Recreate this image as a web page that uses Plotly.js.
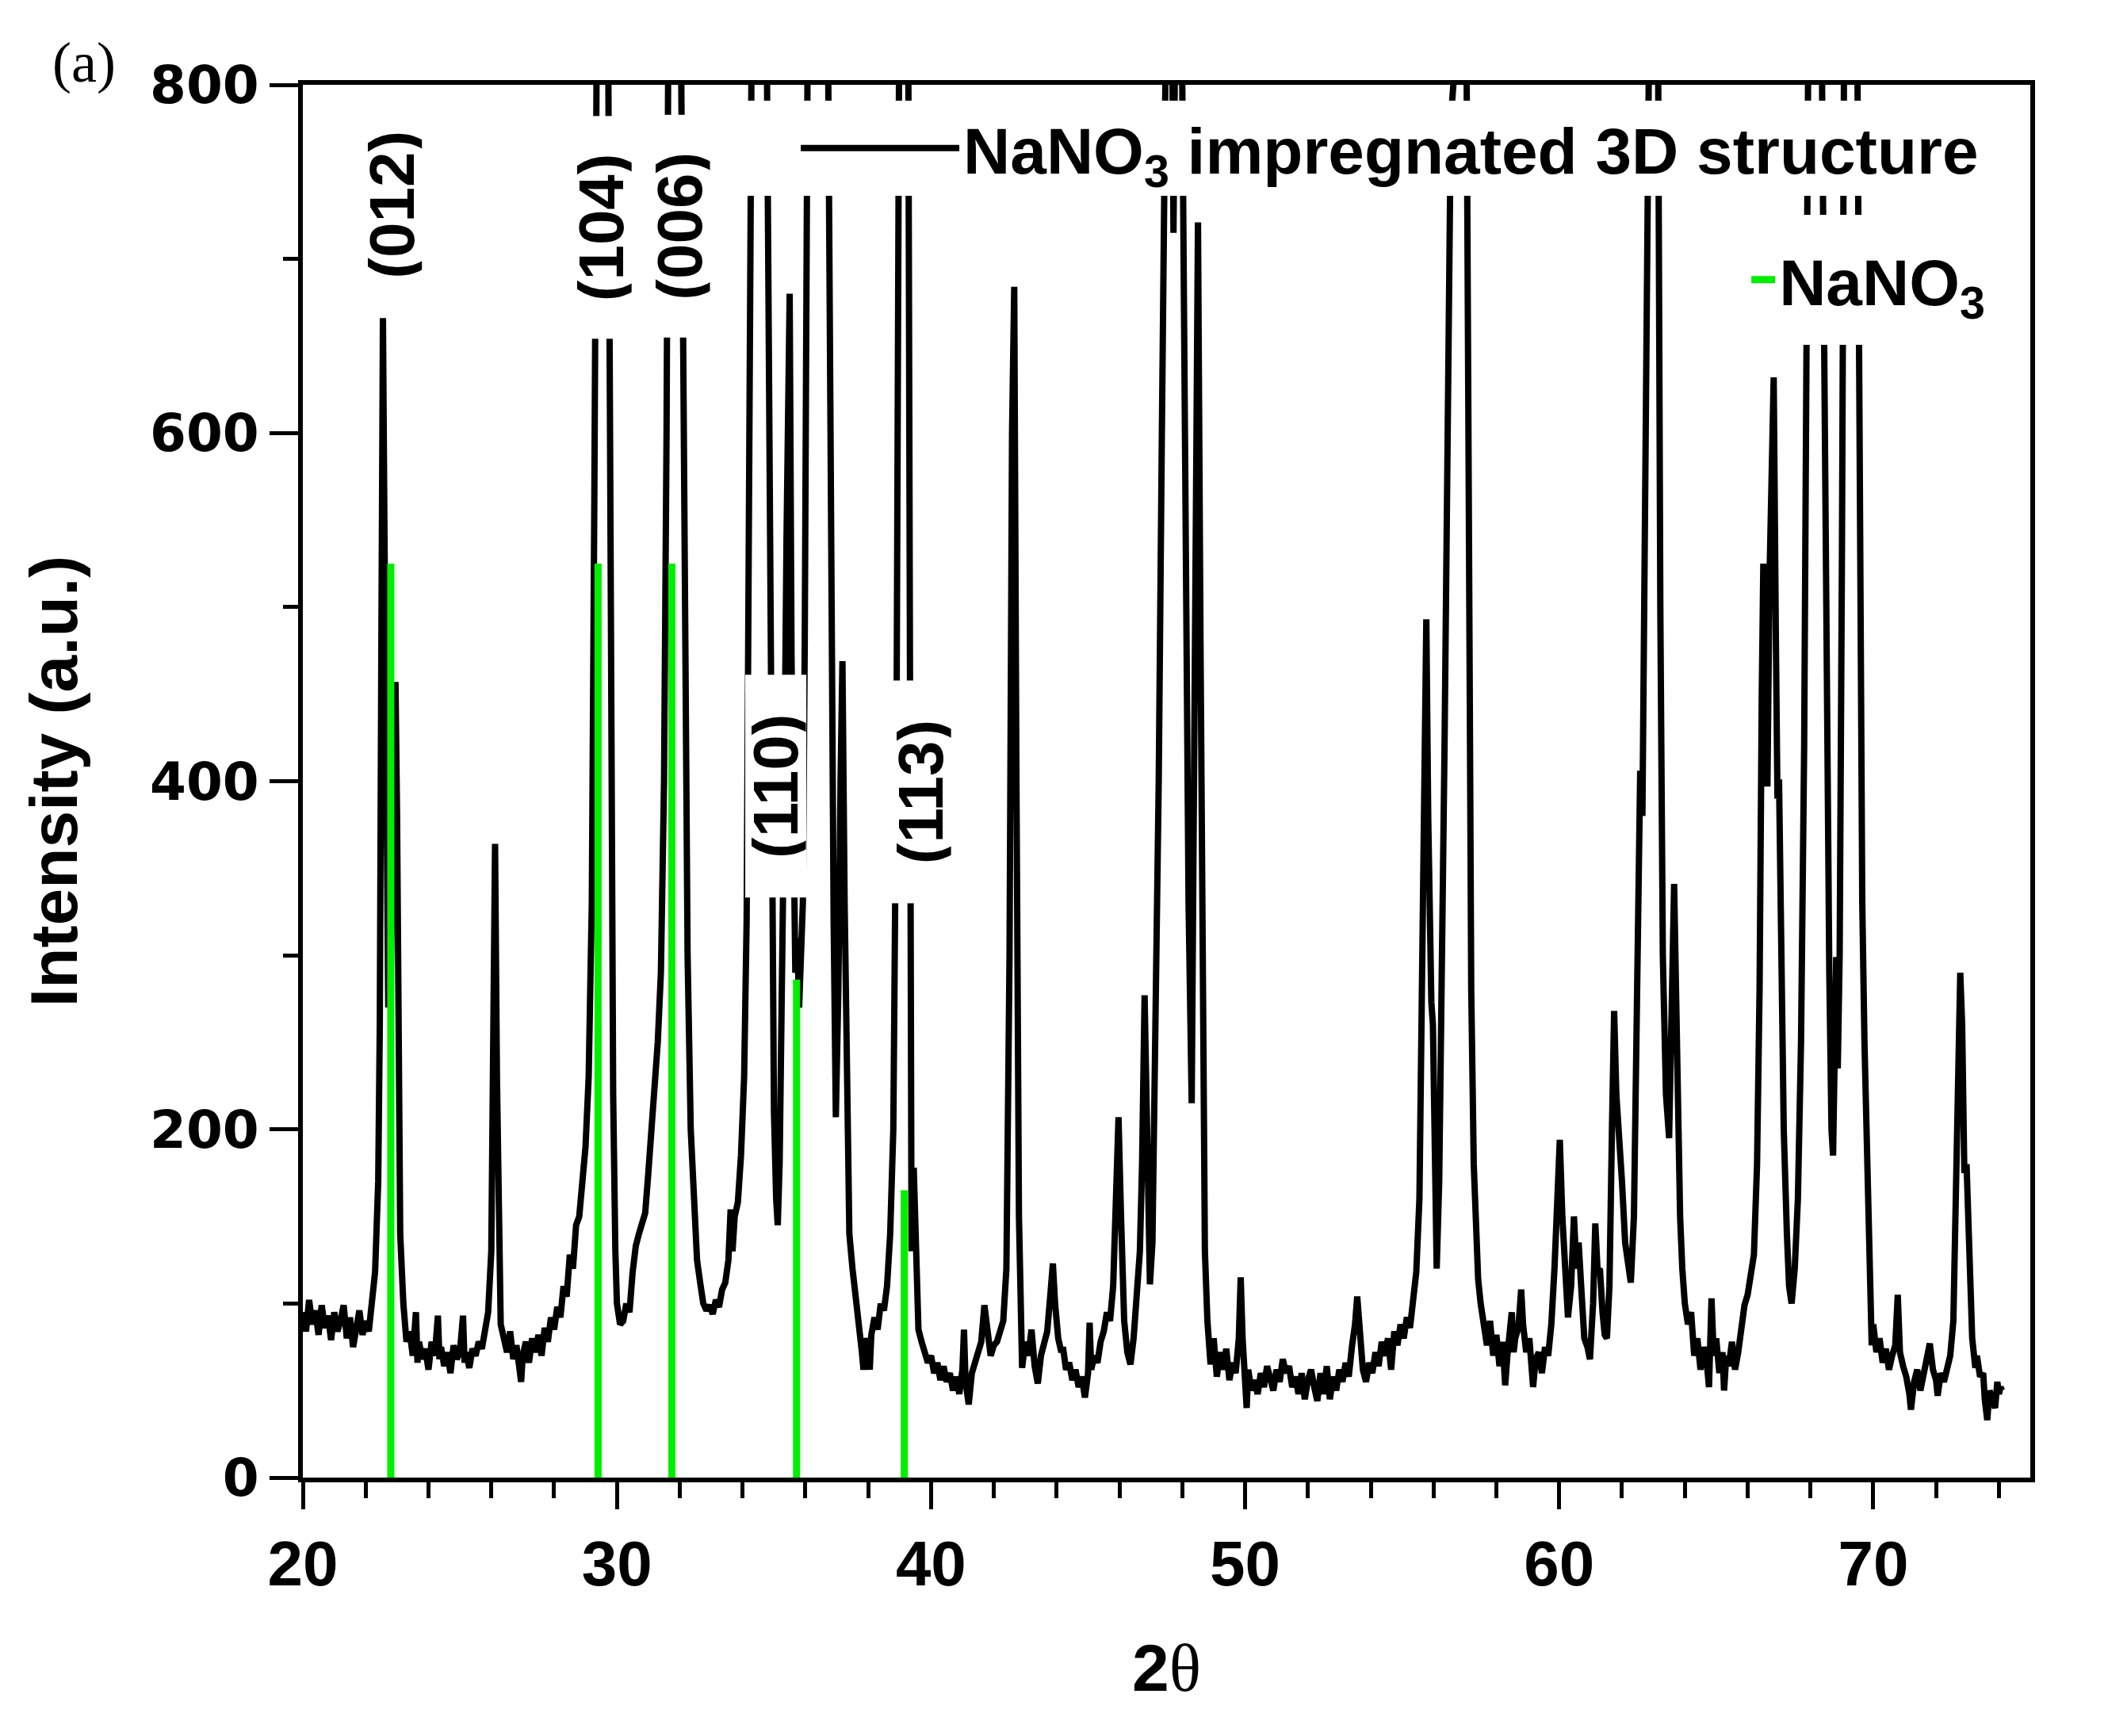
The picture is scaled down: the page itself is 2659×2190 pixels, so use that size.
<!DOCTYPE html>
<html>
<head>
<meta charset="utf-8">
<script src="https://cdn.plot.ly/plotly-3.0.1.min.js"></script>
<style>
html,body{margin:0;padding:0;background:#ffffff;}
#chart{width:2659px;height:2190px;}
</style>
</head>
<body>
<div id="chart"></div>
<script>
// ---- XRD pattern of the NaNO3 impregnated 3D structure ----
const twoTheta = [
20.0,20.1,20.2,20.3,20.4,20.5,20.6,20.7,20.8,20.9,21.0,21.1,21.2,21.3,21.4,21.5,21.6,21.7,21.8,21.9,
22.0,22.1,22.2,22.3,22.4,22.45,22.5,22.55,22.6,22.65,22.72,22.8,22.88,22.95,23.0,23.05,23.1,23.2,23.3,23.4,
23.5,23.6,23.65,23.7,23.8,23.9,24.0,24.1,24.2,24.3,24.35,24.4,24.5,24.6,24.7,24.8,24.9,25.0,25.1,25.15,
25.2,25.3,25.4,25.5,25.6,25.7,25.8,25.9,26.0,26.05,26.12,26.18,26.25,26.3,26.4,26.5,26.6,26.7,26.8,26.9,
26.95,27.0,27.1,27.2,27.3,27.4,27.5,27.6,27.7,27.8,27.9,28.0,28.1,28.2,28.3,28.4,28.5,28.6,28.7,28.8,
28.9,29.0,29.1,29.2,29.28,29.36,29.45,29.55,29.65,29.72,29.8,29.88,29.95,30.0,30.1,30.2,30.3,30.4,30.5,30.6,
30.7,30.8,30.9,31.0,31.1,31.2,31.3,31.4,31.5,31.58,31.66,31.8,31.95,32.05,32.15,32.25,32.35,32.45,32.55,32.65,
32.75,32.85,32.95,33.05,33.15,33.25,33.35,33.45,33.55,33.62,33.68,33.75,33.85,33.95,34.05,34.13,34.2,34.27,34.5,34.78,
34.85,34.93,35.0,35.07,35.12,35.18,35.25,35.32,35.4,35.5,35.56,35.62,35.68,35.74,35.8,35.86,35.92,35.98,36.03,36.07,
36.2,36.4,36.6,36.73,36.8,36.9,36.97,37.05,37.12,37.18,37.25,37.32,37.4,37.5,37.6,37.7,37.8,37.85,37.9,38.0,
38.05,38.1,38.2,38.3,38.4,38.5,38.6,38.7,38.8,38.9,38.98,39.1,39.2,39.28,39.33,39.38,39.45,39.5,39.55,39.6,
39.7,39.8,39.9,40.0,40.1,40.2,40.3,40.4,40.5,40.6,40.7,40.8,40.9,41.0,41.05,41.1,41.2,41.3,41.4,41.5,
41.6,41.7,41.8,41.9,42.0,42.1,42.2,42.3,42.4,42.5,42.58,42.65,42.72,42.8,42.9,43.0,43.1,43.2,43.3,43.4,
43.5,43.6,43.7,43.8,43.88,43.95,44.05,44.15,44.2,44.3,44.4,44.5,44.6,44.7,44.8,44.9,45.0,45.05,45.1,45.2,
45.3,45.4,45.5,45.6,45.7,45.8,45.9,45.97,46.05,46.15,46.25,46.35,46.45,46.55,46.65,46.72,46.8,46.88,46.97,47.05,
47.15,47.25,47.35,47.45,47.6,47.72,47.85,48.0,48.1,48.2,48.3,48.38,48.45,48.5,48.58,48.65,48.72,48.8,48.9,49.0,
49.1,49.2,49.3,49.4,49.5,49.6,49.7,49.8,49.86,49.92,50.0,50.05,50.1,50.2,50.3,50.4,50.5,50.6,50.7,50.8,
50.9,51.0,51.1,51.2,51.3,51.4,51.5,51.6,51.7,51.8,51.9,52.0,52.1,52.2,52.3,52.4,52.5,52.6,52.7,52.8,
52.9,53.0,53.1,53.2,53.3,53.4,53.5,53.57,53.65,53.75,53.85,53.95,54.05,54.15,54.25,54.35,54.45,54.55,54.65,54.75,
54.85,54.95,55.05,55.15,55.25,55.35,55.45,55.55,55.62,55.7,55.77,55.83,55.88,55.93,55.98,56.05,56.1,56.18,56.25,56.35,
56.45,56.55,56.63,56.85,57.0,57.06,57.12,57.2,57.28,57.35,57.42,57.5,57.6,57.7,57.8,57.9,58.0,58.1,58.2,58.28,
58.35,58.42,58.49,58.55,58.6,58.7,58.79,58.85,58.95,59.05,59.1,59.17,59.25,59.35,59.45,59.55,59.65,59.75,59.85,59.95,
60.02,60.1,60.2,60.28,60.38,60.47,60.55,60.62,60.7,60.8,60.9,60.98,61.08,61.15,61.22,61.3,61.38,61.45,61.52,61.6,
61.68,61.75,61.82,61.9,62.0,62.1,62.2,62.28,62.38,62.45,62.52,62.58,62.65,62.72,62.8,62.85,63.0,63.14,63.22,63.3,
63.4,63.5,63.58,63.66,63.72,63.78,63.85,63.92,64.0,64.1,64.2,64.3,64.4,64.5,64.6,64.7,64.77,64.85,64.92,65.0,
65.1,65.2,65.25,65.32,65.4,65.5,65.6,65.7,65.8,65.9,66.0,66.1,66.2,66.3,66.38,66.45,66.5,66.58,66.63,66.7,
66.77,66.83,66.9,66.95,67.0,67.08,67.15,67.25,67.32,67.4,67.5,67.6,67.7,67.8,67.88,67.95,68.15,68.37,68.45,68.52,
68.6,68.67,68.72,68.77,68.82,68.87,68.93,69.0,69.1,69.3,69.5,69.58,69.65,69.72,69.8,69.88,69.95,70.0,70.1,70.2,
70.3,70.4,70.5,70.6,70.7,70.78,70.85,70.95,71.05,71.15,71.2,71.3,71.4,71.5,71.6,71.7,71.8,71.9,72.0,72.05,
72.15,72.25,72.35,72.45,72.55,72.62,72.7,72.77,72.83,72.9,72.97,73.05,73.15,73.25,73.3,73.4,73.5,73.55,73.63,73.7,
73.8,73.88,73.95,74.0,74.05,74.1
];
const intensity = [
95,84,102,88,96,82,99,86,93,79,95,84,90,99,80,92,75,88,96,82,
90,84,100,118,170,260,480,666,540,380,270,290,360,457,380,220,140,100,78,84,
70,95,66,78,68,74,62,78,70,93,68,75,64,72,60,76,68,72,93,66,
72,63,74,70,78,74,86,95,130,220,364,230,120,88,80,72,84,68,76,64,
55,70,78,66,80,72,82,70,86,78,92,85,98,92,110,104,128,120,145,150,
175,190,230,330,560,800,1400,1500,1100,800,420,220,130,100,88,90,100,95,118,133,
140,146,152,175,200,225,250,290,400,600,800,1500,1200,800,480,300,200,150,125,112,
100,96,99,94,102,98,108,112,125,154,130,150,158,185,230,320,520,800,1500,800,
560,330,210,160,145,180,260,380,540,680,470,320,290,310,270,300,330,480,700,800,
1300,1050,1250,800,540,320,207,280,400,469,330,200,140,120,100,88,72,62,80,74,
62,82,92,85,100,96,110,140,200,420,800,1300,1000,800,400,130,178,140,95,85,
78,72,66,70,60,66,56,64,55,60,50,58,48,62,85,55,42,60,66,74,
78,99,80,70,76,78,84,90,120,300,600,684,400,150,63,78,70,85,64,54,
70,78,84,105,123,100,80,72,75,62,66,56,62,52,58,46,60,89,62,70,
66,78,84,95,90,110,160,207,150,90,72,65,80,100,130,180,277,200,111,135,
250,400,600,800,1050,715,1000,800,550,330,215,400,600,721,480,260,130,90,65,80,
58,72,62,74,56,66,60,80,115,80,55,40,62,50,56,48,60,52,64,58,
50,62,55,68,60,64,52,58,48,60,45,56,62,52,44,60,48,64,45,58,
50,62,55,66,58,75,88,104,82,62,55,66,60,72,64,78,70,80,62,84,
76,88,80,92,86,100,118,160,280,420,493,380,290,273,260,150,120,170,260,420,
600,780,800,1500,1000,800,500,280,180,140,114,100,85,76,90,70,82,64,78,53,
70,80,95,72,80,86,108,88,72,80,62,52,68,72,60,75,70,88,120,165,
194,150,120,92,110,150,120,135,110,80,75,68,100,146,120,119,95,82,80,110,
200,268,220,200,170,135,125,112,150,250,350,406,380,500,700,800,1500,800,500,300,
220,195,260,341,280,200,150,120,100,88,95,70,80,62,75,66,52,103,70,80,
60,72,50,70,64,78,62,72,85,99,105,118,128,180,280,450,525,420,397,520,
600,632,480,390,401,300,200,140,110,100,120,160,250,420,620,800,1500,800,600,420,
290,200,185,240,299,235,300,520,800,1800,800,500,330,250,200,130,76,88,72,80,
66,74,62,70,76,105,72,64,58,48,39,55,62,50,60,68,77,62,56,47,
60,55,64,70,90,160,240,290,260,175,180,120,80,63,70,58,60,45,33,50,
45,40,55,48,52,50
];

// ---- NaNO3 reference pattern (stick positions and heights) ----
const nano3Angles = [22.8, 29.4, 31.75, 35.72, 39.15];
const nano3Intensity = [525, 525, 525, 286, 165];

// ---- Miller indices of the NaNO3 reflections ----
const hklLabels = ['(012)', '(104)', '(006)', '(110)', '(113)'];

// ---- axis ticks ----
const xTickVals = [20, 30, 40, 50, 60, 70];
const yTickVals = [0, 200, 400, 600, 800];

// build the stick trace from the reference arrays
const stickX = [], stickY = [];
nano3Angles.forEach(function (a, i) {
  stickX.push(a, a, null);
  stickY.push(0, nano3Intensity[i], null);
});

const SANS = 'Liberation Sans, Arial, Helvetica, sans-serif';

const traces = [
  {
    type: 'scatter', mode: 'lines',
    x: twoTheta, y: intensity,
    name: 'NaNO<sub>3</sub> impregnated 3D structure',
    line: {color: '#000000', width: 8},
    legend: 'legend'
  },
  {
    type: 'scatter', mode: 'lines',
    x: stickX, y: stickY,
    name: 'NaNO<sub>3</sub>',
    line: {color: '#00ee00', width: 9},
    connectgaps: false,
    legend: 'legend2'
  }
];

// label anchor points (data units) for the Miller index annotations
const hklAnchorX = [22.82, 29.51, 32.0, 35.06, 39.67];
const hklAnchorY = [731, 718, 719, 397, 394];

const annotations = hklLabels.map(function (t, i) {
  return {
    x: hklAnchorX[i], y: hklAnchorY[i], xref: 'x', yref: 'y',
    text: t, showarrow: false, textangle: -90,
    xanchor: 'center', yanchor: 'middle',
    width: 280, height: 76, bgcolor: '#ffffff', borderpad: 0,
    font: {family: SANS, size: 80, color: '#000000', weight: 'bold'}
  };
});
annotations.push({
  text: '(a)', xref: 'paper', yref: 'paper', x: -0.146, y: 1.04,
  xanchor: 'left', yanchor: 'top', showarrow: false,
  font: {family: 'Liberation Serif, Times New Roman, serif', size: 72, color: '#000000'}
});

const layout = {
  width: 2659, height: 2190,
  margin: {l: 382, r: 98, t: 107, b: 326, pad: 0},
  paper_bgcolor: '#ffffff', plot_bgcolor: '#ffffff',
  showlegend: true,
  xaxis: {
    range: [20, 75], tickvals: xTickVals, ticktext: xTickVals.map(String),
    showline: true, linewidth: 6, linecolor: '#000000', mirror: true,
    ticks: 'outside', ticklen: 34, tickwidth: 5, tickcolor: '#000000',
    minor: {dtick: 2, tick0: 20, ticks: 'outside', ticklen: 20, tickwidth: 5, tickcolor: '#000000', showgrid: false},
    showgrid: false, zeroline: false,
    tickfont: {family: SANS, size: 80, color: '#000000', weight: 'bold'},
    title: {text: '2<span style="font-family:Liberation Serif;font-weight:normal">θ</span>',
            font: {family: SANS, size: 84, color: '#000000', weight: 'bold'}, standoff: 60}
  },
  yaxis: {
    range: [0, 800], tickvals: yTickVals, ticktext: yTickVals.map(String),
    showline: true, linewidth: 6, linecolor: '#000000', mirror: true,
    ticks: 'outside', ticklen: 36, tickwidth: 5, tickcolor: '#000000',
    minor: {dtick: 100, tick0: 0, ticks: 'outside', ticklen: 19, tickwidth: 5, tickcolor: '#000000', showgrid: false},
    showgrid: false, zeroline: false,
    tickfont: {family: 'DejaVu Sans, sans-serif', size: 66, color: '#000000', weight: 'bold'},
    title: {text: 'Intensity (a.u.)',
            font: {family: SANS, size: 84, color: '#000000', weight: 'bold'}, standoff: 66}
  },
  legend: {
    x: 0.9725, xanchor: 'right', y: 0.9886, yanchor: 'top',
    bgcolor: '#ffffff', bordercolor: '#ffffff', borderwidth: 0, itemwidth: 200, indentation: 80,
    font: {family: SANS, size: 82, color: '#000000', weight: 'bold'}
  },
  legend2: {
    x: 0.9863, xanchor: 'right', y: 0.9067, yanchor: 'top',
    bgcolor: '#ffffff', bordercolor: '#ffffff', borderwidth: 22, itemwidth: 30, indentation: 20,
    font: {family: SANS, size: 82, color: '#000000', weight: 'bold'}
  },
  annotations: annotations
};

Plotly.newPlot('chart', traces, layout, {staticPlot: true, displayModeBar: false});
</script>
</body>
</html>
